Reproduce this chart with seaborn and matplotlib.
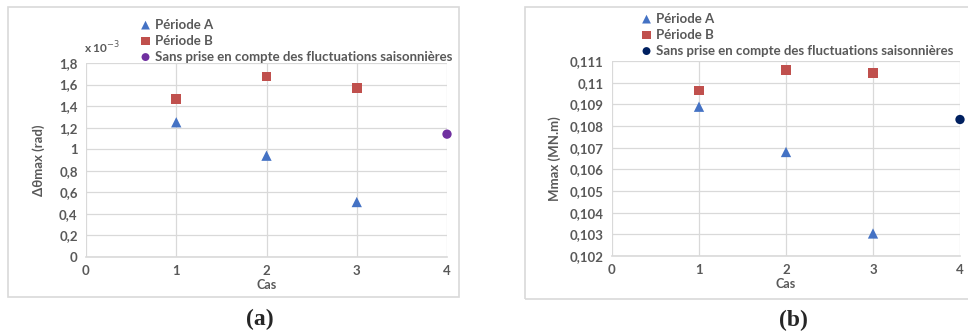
import numpy as np
import pandas as pd
import matplotlib
matplotlib.use("Agg")
import matplotlib.pyplot as plt
import seaborn as sns
from matplotlib.patches import Rectangle
from matplotlib.ticker import FuncFormatter

# --- data ---
cas = [1, 2, 3]
cas_sans = [4]
theta_a = [1.25, 0.94, 0.51]          # x 10^-3 rad
theta_b = [1.465, 1.675, 1.57]
theta_sans = [1.14]
moment_a = [0.10889, 0.10680, 0.10304]  # MN.m
moment_b = [0.10964, 0.11060, 0.11044]
moment_sans = [0.10830]

labels = ["Période A", "Période B", "Sans prise en compte des fluctuations saisonnières"]
blue, red = "#4472C4", "#C0504D"
purple, navy = "#7030A0", "#002060"
grey_txt = "#595959"

sns.set_theme(style="white")
plt.rcParams["font.family"] = ["Lato", "DejaVu Sans"]

W, H = 968, 335
fig = plt.figure(figsize=(W / 100, H / 100), dpi=100)


def px_axes(x0, y0, x1, y1):
    # pixel box (top-left origin) -> figure axes
    return fig.add_axes([x0 / W, 1 - y1 / H, (x1 - x0) / W, (y1 - y0) / H])


def frame(x0, y0, x1, y1):
    fig.patches.append(Rectangle((x0 / W, 1 - y1 / H), (x1 - x0) / W, (y1 - y0) / H,
                                 transform=fig.transFigure, fill=False,
                                 edgecolor="#D9D9D9", lw=1.2))


def panel(ax, a, b, sans, sans_color, ylim, yticks, fmt):
    df_a = pd.DataFrame({"Cas": cas, "v": a})
    df_b = pd.DataFrame({"Cas": cas, "v": b})
    df_s = pd.DataFrame({"Cas": cas_sans, "v": sans})
    sns.scatterplot(data=df_a, x="Cas", y="v", ax=ax, marker="^", s=55, color=blue,
                    edgecolor="none", label=labels[0], clip_on=False, zorder=3)
    sns.scatterplot(data=df_b, x="Cas", y="v", ax=ax, marker="s", s=50, color=red,
                    edgecolor="none", label=labels[1], clip_on=False, zorder=3)
    sns.scatterplot(data=df_s, x="Cas", y="v", ax=ax, marker="o", s=45, color=sans_color,
                    edgecolor="none", label=labels[2], clip_on=False, zorder=3)
    ax.set_xlim(0, 4)
    ax.set_ylim(*ylim)
    ax.set_xticks([0, 1, 2, 3, 4])
    ax.set_yticks(yticks)
    ax.yaxis.set_major_formatter(FuncFormatter(fmt))
    ax.grid(True, color="#D9D9D9", lw=0.9)
    ax.set_axisbelow(True)
    for s in ["top", "right", "left"]:
        ax.spines[s].set_visible(False)
    ax.spines["bottom"].set_color("#D9D9D9")
    ax.spines["bottom"].set_linewidth(1.2)
    ax.tick_params(axis="both", length=0, labelsize=9.5, labelcolor=grey_txt, pad=6)
    for t in ax.get_xticklabels() + ax.get_yticklabels():
        t.set_fontweight("bold")
    ax.set_xlabel("Cas", fontsize=9, color=grey_txt, fontweight="bold", labelpad=1)
    ax.get_legend().remove()


leg_kw = dict(loc="upper left", frameon=False, labelcolor=grey_txt, handletextpad=0.1,
              labelspacing=0.3, borderpad=0, handlelength=1.2, markerscale=0.85,
              prop={"weight": "bold", "size": 9.5})

# --- panel (a) ---
frame(8, 7, 459, 297)
ax1 = px_axes(86, 63, 447, 257)
panel(ax1, theta_a, theta_b, theta_sans, purple, (0, 1.8),
      np.arange(0, 1.81, 0.2),
      lambda v, p: ("%g" % round(v, 1)).replace(".", ","))
ax1.set_ylabel("Δθmax (rad)", fontsize=9.5, color=grey_txt, fontweight="bold", labelpad=10)
fig.text(84 / W, 1 - 48 / H, "x 10$^{-3}$", fontsize=8.5, color=grey_txt,
         fontweight="bold", va="center")
h, l = ax1.get_legend_handles_labels()
fig.legend(h, l, bbox_to_anchor=(131 / W, 1 - 12 / H), **leg_kw)
fig.text(260 / W, 1 - 319 / H, "(a)", fontsize=17, fontweight="bold",
         family="Liberation Serif", ha="center", va="center")

# --- panel (b) ---
frame(525, 7, 975, 299)
ax2 = px_axes(612, 61, 960, 256)
panel(ax2, moment_a, moment_b, moment_sans, navy, (0.102, 0.111),
      np.arange(0.102, 0.1111, 0.001),
      lambda v, p: ("%g" % round(v, 3)).replace(".", ","))
ax2.set_ylabel("Mmax (MN.m)", fontsize=9.5, color=grey_txt, fontweight="bold", labelpad=6)
h, l = ax2.get_legend_handles_labels()
fig.legend(h, l, bbox_to_anchor=(632 / W, 1 - 6 / H), **leg_kw)
fig.text(793 / W, 1 - 320 / H, "(b)", fontsize=17, fontweight="bold",
         family="Liberation Serif", ha="center", va="center")

fig.savefig("out.png", dpi=100)
